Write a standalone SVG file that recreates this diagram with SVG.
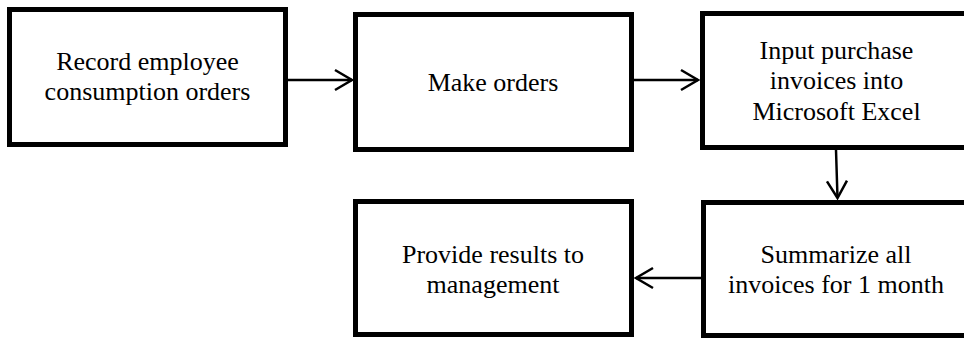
<svg xmlns="http://www.w3.org/2000/svg" width="964" height="338" viewBox="0 0 964 338">
  <style>
    .box { fill: #ffffff; stroke: #000000; stroke-width: 5; }
    .lbl { font-family: "Liberation Serif", "Times New Roman", serif; font-size: 26px; fill: #000000; text-anchor: middle; }
    .edge { fill: none; stroke: #000000; stroke-width: 2.5; marker-end: url(#chevron); }
  </style>
  <defs>
    <marker id="chevron" markerUnits="userSpaceOnUse" markerWidth="24" markerHeight="26" refX="19" refY="13" orient="auto">
      <path d="M2,3 L19,13 L2,23" fill="none" stroke="#000000" stroke-width="2.5"/>
    </marker>
  </defs>
  <rect width="964" height="338" fill="#ffffff"/>

  <g id="connectors">
    <path class="edge" d="M288,80 L352,80"/>
    <path class="edge" d="M634,80 L698,80"/>
    <path class="edge" d="M836,150 L837.5,198"/>
    <path class="edge" d="M701,278 L636,278"/>
  </g>

  <g id="record-orders">
    <rect class="box" x="9.5" y="9.5" width="276" height="135"/>
    <text class="lbl" x="147.5" y="70">Record employee</text>
    <text class="lbl" x="147.5" y="100">consumption orders</text>
  </g>

  <g id="make-orders">
    <rect class="box" x="355.5" y="14.5" width="276" height="135"/>
    <text class="lbl" x="493" y="91">Make orders</text>
  </g>

  <g id="input-invoices">
    <rect class="box" x="702.5" y="13.5" width="276" height="134"/>
    <text class="lbl" x="836.5" y="59">Input purchase</text>
    <text class="lbl" x="836.5" y="89">invoices into</text>
    <text class="lbl" x="836.5" y="120">Microsoft Excel</text>
  </g>

  <g id="summarize-invoices">
    <rect class="box" x="703.5" y="202.5" width="276" height="133"/>
    <text class="lbl" x="836" y="263">Summarize all</text>
    <text class="lbl" x="836" y="293">invoices for 1 month</text>
  </g>

  <g id="provide-results">
    <rect class="box" x="355.5" y="201.5" width="276" height="133"/>
    <text class="lbl" x="493" y="263">Provide results to</text>
    <text class="lbl" x="493" y="293">management</text>
  </g>
</svg>
